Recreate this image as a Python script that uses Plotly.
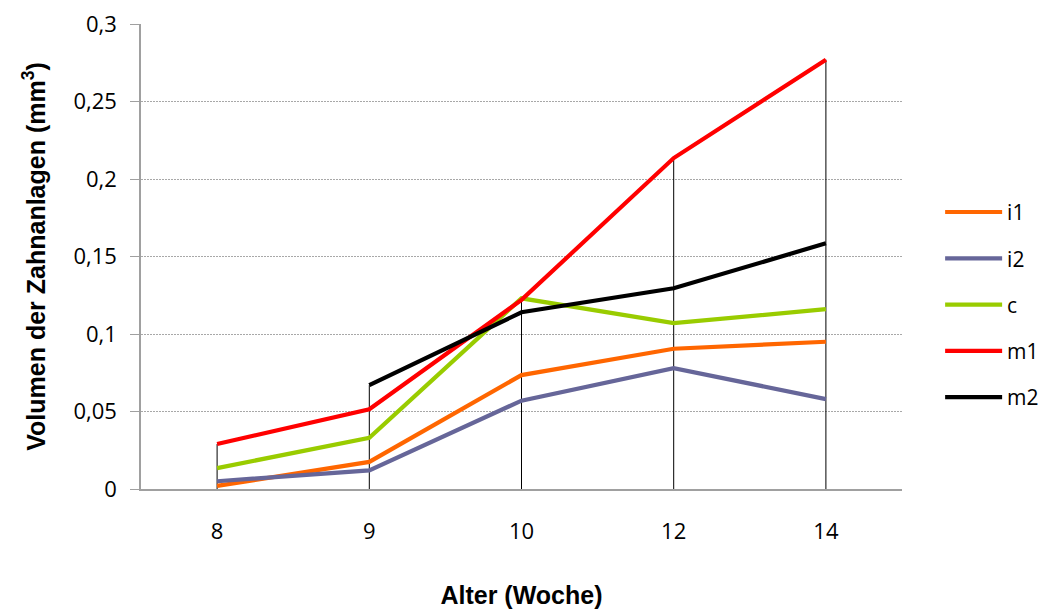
import plotly.graph_objects as go

weeks = ["8", "9", "10", "12", "14"]
i1 = [0.002, 0.0175, 0.0735, 0.0905, 0.095]
i2 = [0.005, 0.012, 0.057, 0.078, 0.058]
c = [0.0135, 0.033, 0.123, 0.107, 0.116]
m1 = [0.029, 0.0515, 0.122, 0.2135, 0.277]
m2 = [None, 0.067, 0.114, 0.1295, 0.1585]
y_ticks = [0, 0.05, 0.1, 0.15, 0.2, 0.25, 0.3]
y_ticktext = ["0", "0,05", "0,1", "0,15", "0,2", "0,25", "0,3"]

series = [("i1", i1, "#FF6600"), ("i2", i2, "#666699"), ("c", c, "#99CC00"),
          ("m1", m1, "#FF0000"), ("m2", m2, "#000000")]

fig = go.Figure()

# drop lines from highest value to zero
dx, dy = [], []
for k, w in enumerate(weeks):
    vals = [s[1][k] for s in series if s[1][k] is not None]
    dx += [w, w, None]
    dy += [0, max(vals), None]
fig.add_trace(go.Scatter(x=dx, y=dy, mode="lines", line=dict(color="#000000", width=1),
                         showlegend=False, hoverinfo="skip"))

for name, vals, col in series:
    fig.add_trace(go.Scatter(x=weeks, y=vals, name=name, mode="lines", legendgroup=name,
                             line=dict(color=col, width=4.2), connectgaps=False))

fig.update_layout(
    width=1038, height=602,
    margin=dict(l=133, r=144, t=16, b=121, autoexpand=False),
    paper_bgcolor="white", plot_bgcolor="white",
    separators=",.",
    font=dict(family="Open Sans, Liberation Sans, sans-serif", size=22, color="#000000"),
    legend=dict(xref="container", x=0.898, y=0.396, xanchor="left", yanchor="middle",
                font=dict(size=21), tracegroupgap=16, itemwidth=57),
    showlegend=True,
)
fig.update_xaxes(type="category", categoryorder="array", categoryarray=weeks,
                 range=[-0.5, 4.5], showgrid=False, showline=True, linecolor="#A0A0A0",
                 linewidth=1.5, ticks="", tickfont=dict(size=22), ticklabelstandoff=22,
                 automargin=False,
                 title=dict(text="Alter (Woche)", standoff=42,
                            font=dict(family="Liberation Sans, Arial, sans-serif", size=25, weight="bold")))
fig.update_yaxes(range=[0, 0.3], tickmode="array", tickvals=y_ticks, ticktext=y_ticktext,
                 showgrid=True, gridcolor="#A8A8A8",
                 griddash="2px,1px", gridwidth=1, showline=True, linecolor="#A0A0A0",
                 linewidth=1.5, ticks="outside", ticklen=9, tickcolor="#A0A0A0",
                 ticklabelstandoff=9, ticklabeloverflow="allow", tickfont=dict(size=22),
                 zeroline=False, automargin=False,
                 title=dict(text="Volumen der Zahnanlagen (mm<sup>3</sup>)", standoff=21,
                            font=dict(family="Liberation Sans, Arial, sans-serif", size=25, weight="bold")))

fig.write_html("out.html")
